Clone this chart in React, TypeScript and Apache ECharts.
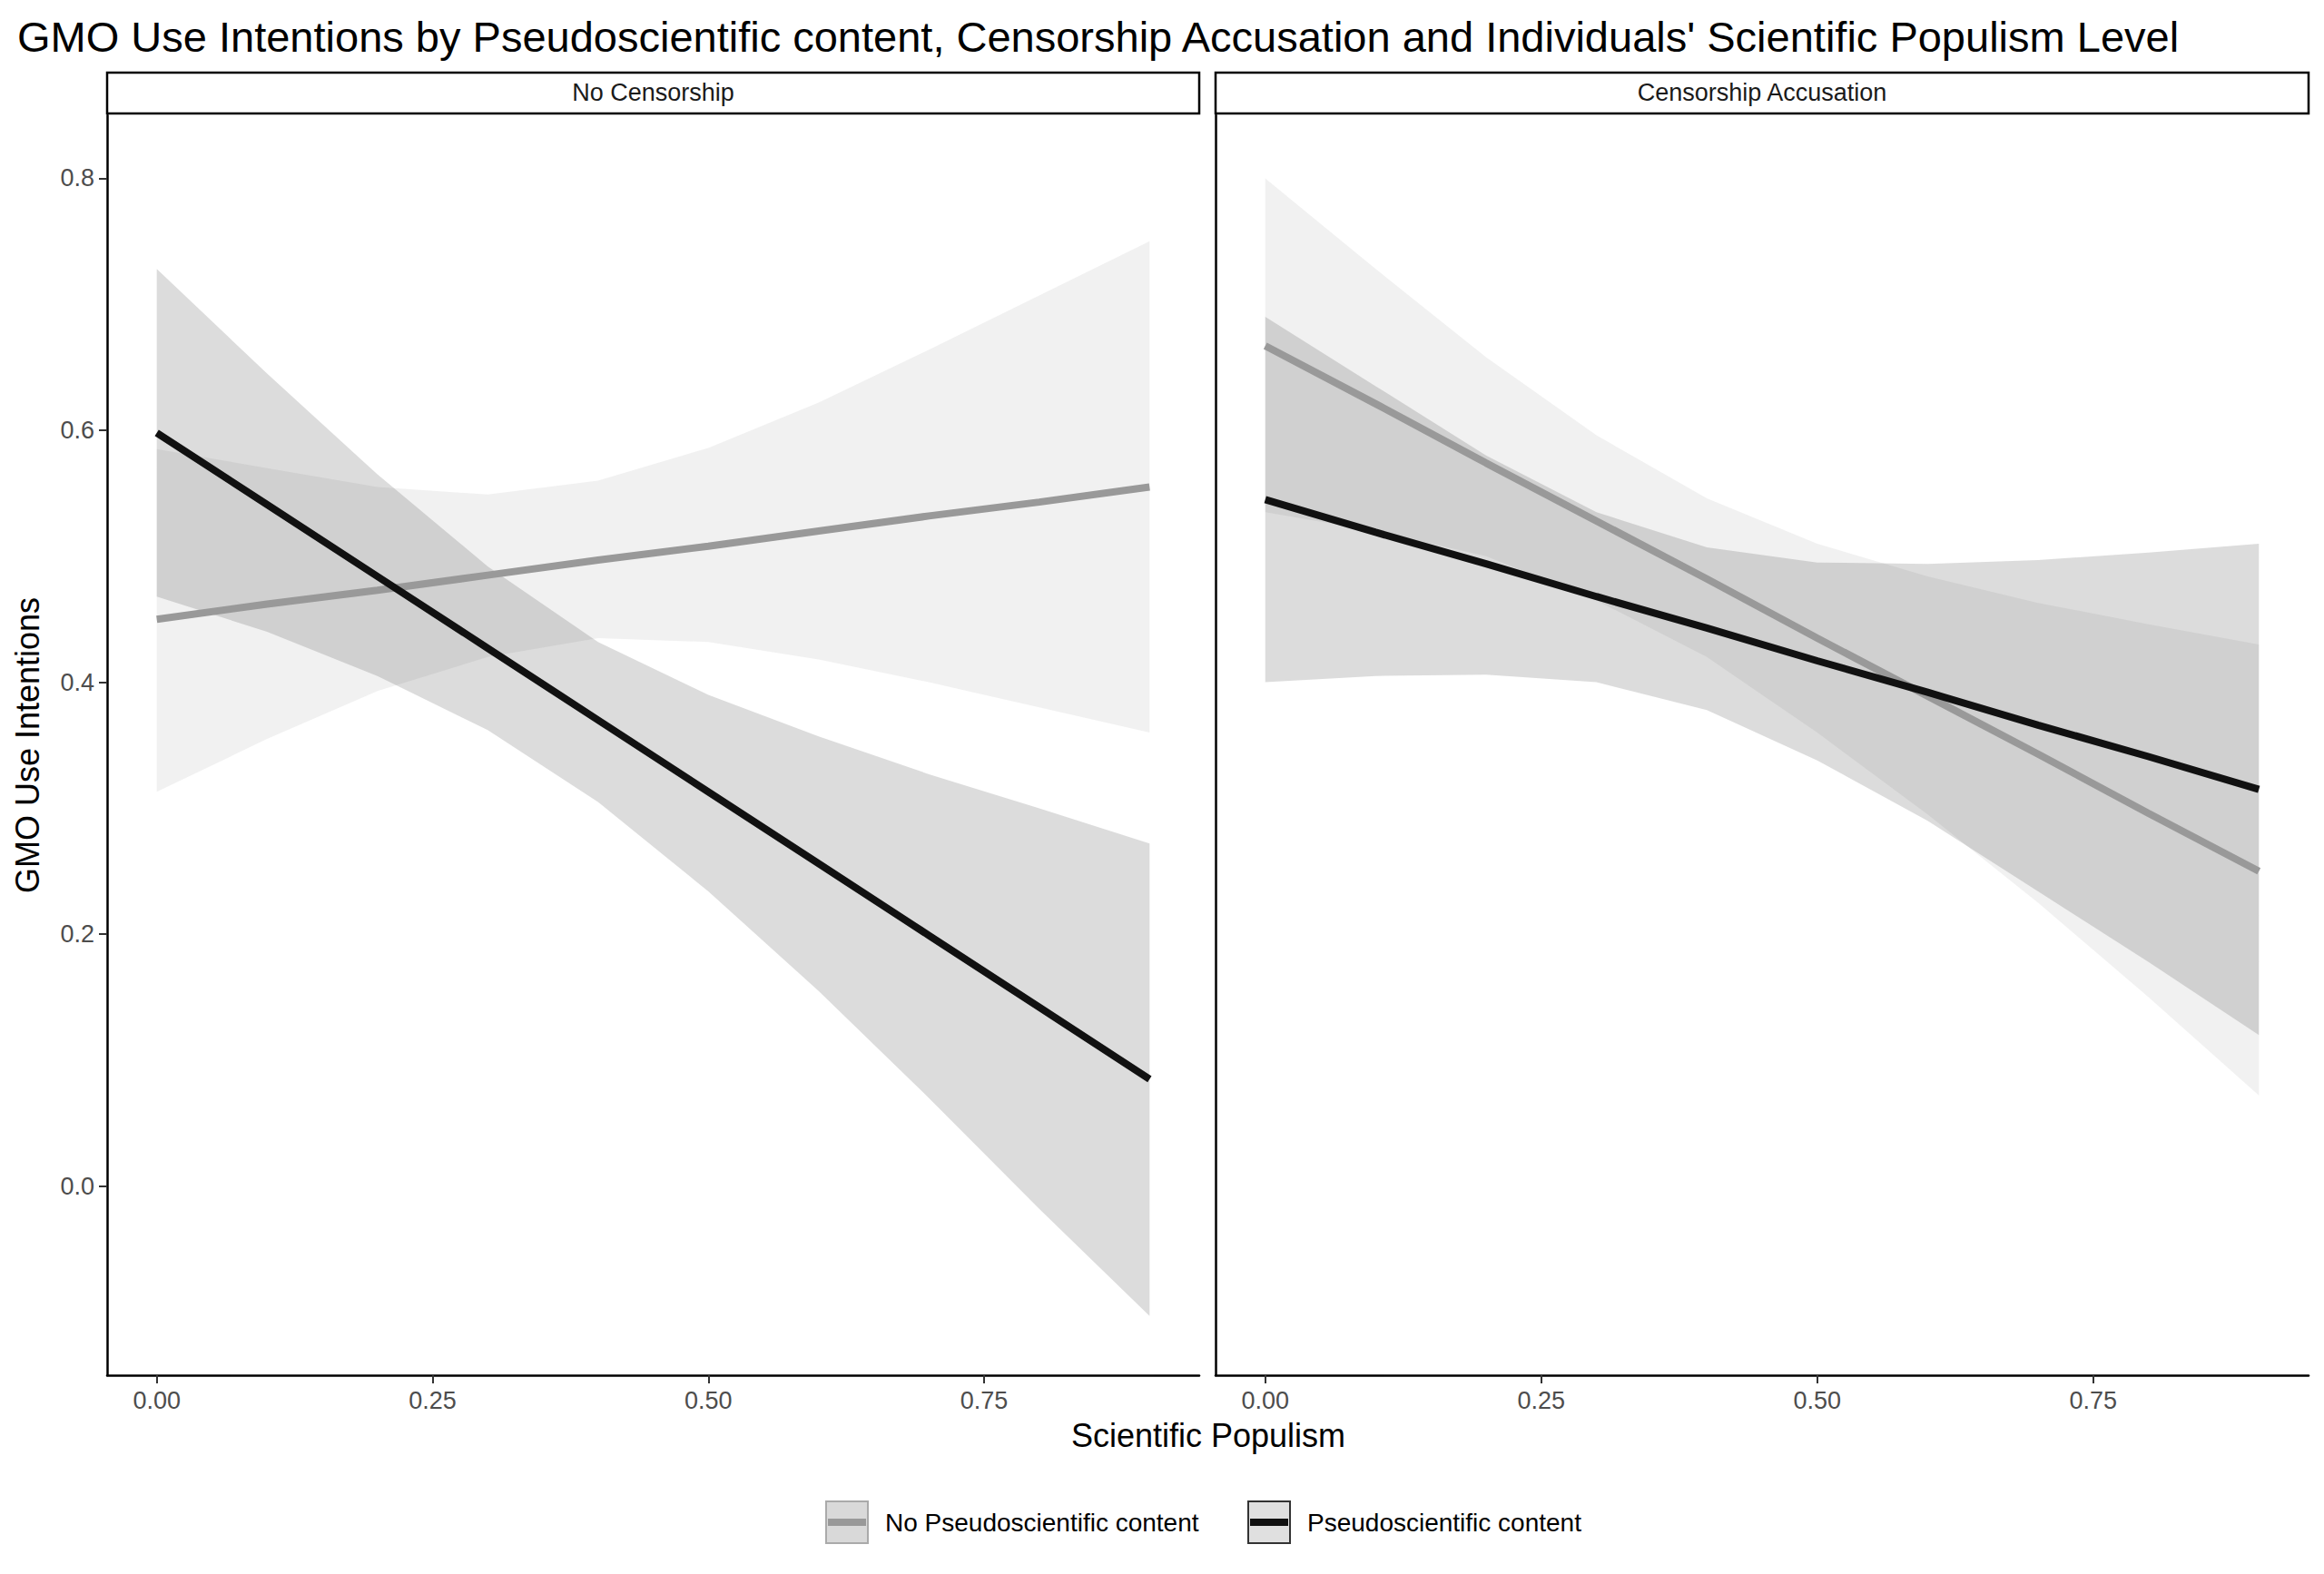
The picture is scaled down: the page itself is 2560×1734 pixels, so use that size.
import { useEffect, useRef } from 'react';
import * as echarts from 'echarts';

const xs = [0, 0.1, 0.2, 0.3, 0.4, 0.5, 0.6, 0.7, 0.8, 0.9];
const panels = ['No Censorship', 'Censorship Accusation'];
const groups = ['No Pseudoscientific content', 'Pseudoscientific content'];

// panel 1 (No Censorship)
const p1NoFit = [0.45, 0.462, 0.473, 0.485, 0.497, 0.508, 0.52, 0.532, 0.543, 0.555];
const p1NoUpper = [0.585, 0.57, 0.555, 0.549, 0.56, 0.586, 0.622, 0.664, 0.707, 0.75];
const p1NoLower = [0.313, 0.355, 0.393, 0.42, 0.435, 0.432, 0.418, 0.4, 0.38, 0.36];
const p1PsFit = [0.598, 0.541, 0.484, 0.427, 0.37, 0.313, 0.256, 0.199, 0.142, 0.085];
const p1PsUpper = [0.728, 0.645, 0.565, 0.492, 0.432, 0.39, 0.357, 0.327, 0.3, 0.272];
const p1PsLower = [0.468, 0.44, 0.405, 0.362, 0.305, 0.234, 0.155, 0.07, -0.018, -0.103];

// panel 2 (Censorship Accusation)
const p2NoFit = [0.667, 0.621, 0.574, 0.528, 0.482, 0.435, 0.389, 0.343, 0.296, 0.25];
const p2NoUpper = [0.8, 0.728, 0.658, 0.596, 0.546, 0.51, 0.484, 0.463, 0.446, 0.43];
const p2NoLower = [0.535, 0.52, 0.5, 0.465, 0.42, 0.36, 0.295, 0.225, 0.15, 0.072];
const p2PsFit = [0.545, 0.519, 0.494, 0.468, 0.443, 0.417, 0.392, 0.366, 0.341, 0.315];
const p2PsUpper = [0.69, 0.635, 0.58, 0.535, 0.507, 0.495, 0.494, 0.497, 0.503, 0.51];
const p2PsLower = [0.4, 0.405, 0.406, 0.4, 0.378, 0.338, 0.29, 0.234, 0.178, 0.12];

const xTicks = [0, 0.25, 0.5, 0.75];
const yTicks = [0, 0.2, 0.4, 0.6, 0.8];

const FONT = 'Liberation Sans, Arial, sans-serif';
const LIGHT_FILL = 'rgba(190,190,190,0.22)';
const DARK_FILL = 'rgba(60,60,60,0.18)';
const LIGHT_LINE = '#999999';
const DARK_LINE = '#111111';

function ribbon(idx: number, upper: number[], lower: number[], fill: string) {
  return {
    type: 'custom',
    xAxisIndex: idx,
    yAxisIndex: idx,
    data: [[0, 0]],
    silent: true,
    z: 1,
    renderItem: (_p: any, api: any) => {
      const top = xs.map((x, i) => api.coord([x, upper[i]]));
      const bot = xs.map((x, i) => api.coord([x, lower[i]])).reverse();
      return { type: 'polygon', shape: { points: [...top, ...bot] }, style: { fill } };
    },
  };
}

function fitLine(idx: number, name: string, ys: number[], color: string) {
  return {
    type: 'line',
    name,
    xAxisIndex: idx,
    yAxisIndex: idx,
    data: xs.map((x, i) => [x, ys[i]]),
    symbol: 'none',
    z: 3,
    lineStyle: { color, width: 8 },
  };
}

const grids = [
  { left: 118, top: 127, width: 1203, height: 1388 },
  { left: 1339, top: 127, width: 1204, height: 1388 },
];

export default function App() {
  const ref = useRef<HTMLDivElement>(null);

  useEffect(() => {
    if (!ref.current) return;
    const chart = echarts.init(ref.current, null, { renderer: 'svg' });
    const axisLine = { show: true, onZero: false, lineStyle: { color: '#000', width: 2.5 } };
    const option = {
      animation: false,
      backgroundColor: '#fff',
      textStyle: { fontFamily: FONT },
      title: {
        text: "GMO Use Intentions by Pseudoscientific content, Censorship Accusation and Individuals' Scientific Populism Level",
        left: 14,
        top: 12,
        textStyle: { fontFamily: FONT, fontSize: 47, fontWeight: 'normal', color: '#000' },
      },
      grid: grids,
      xAxis: grids.map((_, i) => ({
        type: 'value',
        gridIndex: i,
        min: -0.045,
        max: 0.945,
        splitLine: { show: false },
        axisLine,
        axisTick: { show: true, length: 9, customValues: xTicks, lineStyle: { color: '#333', width: 2 } },
        axisLabel: {
          customValues: xTicks,
          fontSize: 27,
          color: '#4d4d4d',
          margin: 14,
          formatter: (v: number) => v.toFixed(2),
        },
      })),
      yAxis: grids.map((_, i) => ({
        type: 'value',
        gridIndex: i,
        min: -0.15,
        max: 0.85,
        splitLine: { show: false },
        axisLine,
        axisTick: { show: i === 0, length: 9, customValues: yTicks, lineStyle: { color: '#333', width: 2 } },
        axisLabel: {
          show: i === 0,
          customValues: yTicks,
          fontSize: 27,
          color: '#4d4d4d',
          margin: 14,
          formatter: (v: number) => v.toFixed(1),
        },
      })),
      series: [
        ribbon(0, p1NoUpper, p1NoLower, LIGHT_FILL),
        ribbon(0, p1PsUpper, p1PsLower, DARK_FILL),
        fitLine(0, groups[0], p1NoFit, LIGHT_LINE),
        fitLine(0, groups[1], p1PsFit, DARK_LINE),
        ribbon(1, p2NoUpper, p2NoLower, LIGHT_FILL),
        ribbon(1, p2PsUpper, p2PsLower, DARK_FILL),
        fitLine(1, groups[0], p2NoFit, LIGHT_LINE),
        fitLine(1, groups[1], p2PsFit, DARK_LINE),
      ],
      graphic: [
        ...grids.flatMap((g, i) => [
          {
            type: 'rect',
            shape: { x: g.left, y: 80, width: g.width, height: 45 },
            style: { fill: '#fff', stroke: '#000', lineWidth: 2.5 },
          },
          {
            type: 'text',
            x: g.left + g.width / 2,
            y: 102,
            style: { text: panels[i], font: `27px ${FONT}`, fill: '#1a1a1a', align: 'center', verticalAlign: 'middle' },
          },
        ]),
        {
          type: 'text',
          x: 1331,
          y: 1581,
          style: { text: 'Scientific Populism', font: `36px ${FONT}`, fill: '#000', align: 'center', verticalAlign: 'middle' },
        },
        {
          type: 'text',
          x: 30,
          y: 821,
          rotation: Math.PI / 2,
          style: { text: 'GMO Use Intentions', font: `36px ${FONT}`, fill: '#000', align: 'center', verticalAlign: 'middle' },
        },
        ...[
          { x: 910, tx: 975, fill: '#d9d9d9', stroke: '#aaa', line: LIGHT_LINE, label: groups[0] },
          { x: 1375, tx: 1440, fill: '#e0e0e0', stroke: '#333', line: DARK_LINE, label: groups[1] },
        ].flatMap((k) => [
          {
            type: 'rect',
            shape: { x: k.x, y: 1654, width: 46, height: 46 },
            style: { fill: k.fill, stroke: k.stroke, lineWidth: 2 },
          },
          {
            type: 'line',
            shape: { x1: k.x + 2, y1: 1677, x2: k.x + 44, y2: 1677 },
            style: { stroke: k.line, lineWidth: 8 },
          },
          {
            type: 'text',
            x: k.tx,
            y: 1677,
            style: { text: k.label, font: `28px ${FONT}`, fill: '#000', verticalAlign: 'middle' },
          },
        ]),
      ],
    };
    chart.setOption(option);
    return () => chart.dispose();
  }, []);

  return <div ref={ref} style={{ position: 'fixed', left: 0, top: 0, width: 2560, height: 1734 }} />;
}
